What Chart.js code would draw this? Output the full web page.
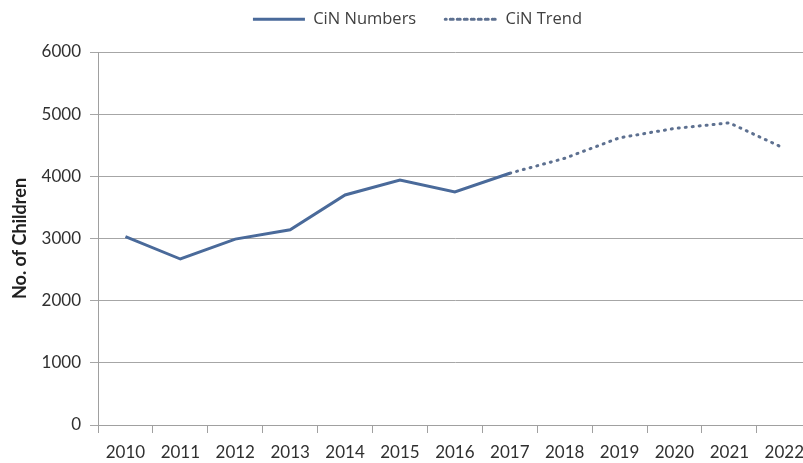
<!DOCTYPE html>
<html><head><meta charset="utf-8">
<script src="https://cdn.jsdelivr.net/npm/chart.js@4/dist/chart.umd.min.js"></script>
<style>html,body{margin:0;padding:0;background:#fff;overflow:hidden}
#wrap{width:803px;height:463px;overflow:hidden}</style></head>
<body><div id="wrap"><canvas id="c" width="813" height="463"></canvas></div>
<script>
const years = ['2010','2011','2012','2013','2014','2015','2016','2017','2018','2019','2020','2021','2022'];
const cinNumbers = [3030, 2670, 2990, 3140, 3700, 3940, 3750, 4050];          // 2010-2017
const cinTrend = [4050, 4290, 4620, 4770, 4860, 4450];                          // 2017-2022
const yMin = 0, yMax = 6000, yStep = 1000;

const numbersSeries = years.map((y, i) => i < cinNumbers.length ? cinNumbers[i] : null);
const trendStart = years.length - cinTrend.length;
const trendSeries = years.map((y, i) => i >= trendStart ? cinTrend[i - trendStart] : null);

const FONT = 'Lato, "Open Sans", sans-serif';
const LEGEND_FONT = '"Open Sans", Lato, sans-serif';

const legendFix = {
  id: 'legendFix',
  beforeInit(chart) {
    const lg = chart.legend;
    if (!lg) return;
    const origFit = lg.fit.bind(lg);
    lg.fit = function () { origFit(); this.height = 52; };
  },
  afterLayout(chart) {
    const lg = chart.legend;
    if (!lg) return;
    lg.top -= 18; lg.bottom -= 18;
    lg.left += 11; lg.right += 11;
  }
};

new Chart(document.getElementById('c'), {
  type: 'line',
  data: {
    labels: years,
    datasets: [
      { label: 'CiN Numbers', data: numbersSeries, borderColor: '#4a6a9a', backgroundColor: '#4a6a9a',
        borderWidth: 3, pointRadius: 0, tension: 0, fill: false },
      { label: 'CiN Trend', data: trendSeries, borderColor: '#5d7090', backgroundColor: '#5d7090',
        borderWidth: 3, borderDash: [1, 6], borderCapStyle: 'round', pointRadius: 0, tension: 0, fill: false }
    ]
  },
  plugins: [legendFix],
  options: {
    responsive: false, animation: false, devicePixelRatio: 1,
    layout: { padding: 0 },
    plugins: {
      tooltip: { enabled: false },
      legend: {
        position: 'top',
        labels: { font: { family: LEGEND_FONT, size: 16.5 }, color: '#404040', boxWidth: 52, boxHeight: 0, padding: 29 }
      }
    },
    scales: {
      x: {
        offset: true,
        grid: { offset: true, drawOnChartArea: false, drawTicks: true, tickLength: 8, color: '#a0a0a0' },
        border: { color: '#a0a0a0' },
        ticks: { font: { family: FONT, size: 17 }, color: '#303030', padding: 9, maxRotation: 0, autoSkip: false },
        afterFit: s => { s.height = 38; }
      },
      y: {
        min: yMin, max: yMax,
        ticks: { stepSize: yStep, font: { family: FONT, size: 17 }, color: '#303030', padding: 9,
          callback: v => String(v) },
        grid: { color: '#a6a6a6', tickLength: 8 },
        border: { color: '#a0a0a0' },
        title: { display: true, text: 'No. of Children', font: { family: FONT, size: 18, weight: 'bold' }, color: '#202020', padding: { top: 9, bottom: 0 } },
        afterFit: s => { s.width = 98; }
      }
    }
  }
});
</script></body></html>
